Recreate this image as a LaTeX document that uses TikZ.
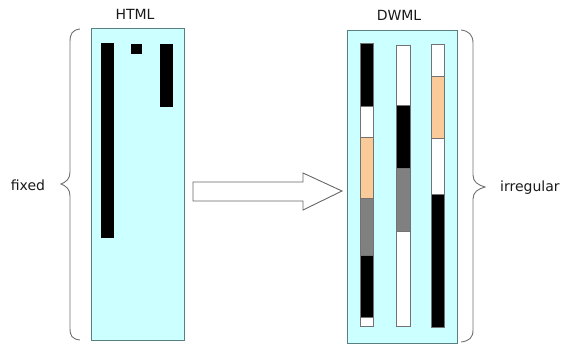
\documentclass[tikz,border=0pt]{standalone}
\usepackage{fontspec}
\setmainfont{DejaVu Sans}
\definecolor{panelfill}{HTML}{CCFFFF}
\definecolor{panelline}{HTML}{5A7F7F}
\definecolor{peach}{HTML}{FACB98}
\definecolor{midgray}{HTML}{808080}
\definecolor{braceline}{HTML}{707070}
\begin{document}
\begin{tikzpicture}[x=1pt,y=-1pt,
  panel/.style={draw=panelline,fill=panelfill,line width=1pt,rectangle,inner sep=0pt,anchor=north west},
  lbl/.style={font=\fontsize{14}{16}\selectfont,text=black!90,inner sep=0pt},
  seg/.style={draw=black!55,line width=0.7pt},
  blk/.style={seg,fill=black},
  wht/.style={seg,fill=white},
  org/.style={seg,fill=peach},
  gry/.style={seg,fill=midgray},
  bracestyle/.style={draw=braceline,line width=0.9pt},
  blockarrow/.style={draw=black!60,fill=white,line width=0.9pt,line join=miter}]
\useasboundingbox (0,0) rectangle (564,347);

% panels
\node[panel,minimum width=93pt,minimum height=312pt] (html) at (91,28) {};
\node[panel,minimum width=110pt,minimum height=313pt] (dwml) at (347,30) {};

% labels
\node[lbl] (htmllbl) at (135,14) {HTML};
\node[lbl] (dwmllbl) at (399,15) {DWML};
\node[lbl] (fixed) at (28,185) {fixed};
\node[lbl,anchor=west] (irregular) at (500,188) {irregular};

% HTML bars
\fill[black] (101,43) rectangle (114,238);
\fill[black] (131,44) rectangle (142,54);
\fill[black] (160,44) rectangle (173,107);

% DWML column 1
\path[blk] (360,43) rectangle (373,106);
\path[wht] (360,106) rectangle (373,137);
\path[org] (360,137) rectangle (373,198);
\path[gry] (360,198) rectangle (373,255);
\path[blk] (360,255) rectangle (373,317);
\path[wht] (360,317) rectangle (373,326);
% DWML column 2
\path[wht] (396,45) rectangle (410,105);
\path[blk] (396,105) rectangle (410,168);
\path[gry] (396,168) rectangle (410,231);
\path[wht] (396,231) rectangle (410,326);
% DWML column 3
\path[wht] (431,44) rectangle (444,76);
\path[org] (431,76) rectangle (444,138);
\path[wht] (431,138) rectangle (444,194);
\path[blk] (431,194) rectangle (444,327);

% block arrow
\path[blockarrow] (193,182) -- (303,182) -- (303,173) -- (342,191) -- (303,210) -- (303,201) -- (193,201) -- cycle;

% braces
\path[bracestyle] (80,29) .. controls (72,30) and (70,34) .. (70,42) -- (70,172)
  .. controls (70,179) and (66,182) .. (61,184) .. controls (66,186) and (70,189) .. (70,196)
  -- (70,328) .. controls (70,336) and (72,339) .. (80,340);
\path[bracestyle] (461,30) .. controls (469,31) and (473,35) .. (473,43) -- (473,175)
  .. controls (473,182) and (478,185) .. (485,187) .. controls (478,189) and (473,192) .. (473,199)
  -- (473,330) .. controls (473,338) and (469,341) .. (461,342);
\end{tikzpicture}
\end{document}
